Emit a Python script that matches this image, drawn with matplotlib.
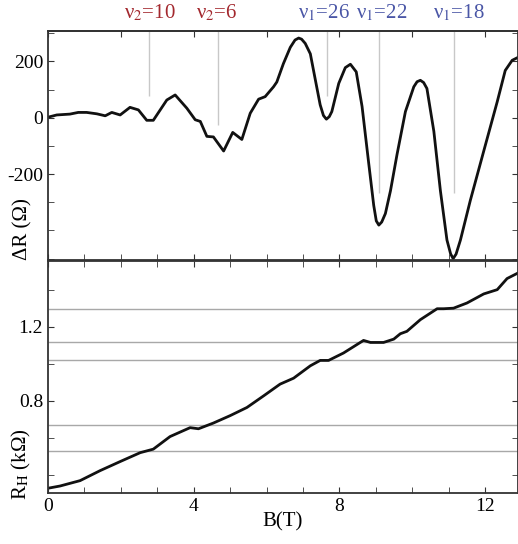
import numpy as np
import matplotlib
matplotlib.use('Agg')
import matplotlib.pyplot as plt
from matplotlib.ticker import MultipleLocator, FixedLocator
import matplotlib.transforms as mtransforms

plt.rcParams['font.family'] = ['Liberation Serif', 'DejaVu Serif']
plt.rcParams['mathtext.fontset'] = 'stix'
plt.rcParams['axes.unicode_minus'] = False

# top panel: Delta R (Ohm) vs B (T)
b_top = [0.0, 0.24, 0.6, 0.83, 1.06, 1.34, 1.57, 1.75, 1.98, 2.25, 2.48, 2.71, 2.89,
         3.08, 3.26, 3.49, 3.81, 4.04, 4.18, 4.36, 4.54, 4.82, 5.07, 5.32, 5.55,
         5.78, 5.96, 6.19, 6.28, 6.46, 6.65, 6.78, 6.88, 6.96, 7.06, 7.20, 7.34,
         7.47, 7.56, 7.64, 7.72, 7.79, 7.98, 8.16, 8.30, 8.46, 8.62, 8.80, 8.94,
         9.01, 9.08, 9.16, 9.26, 9.40, 9.58, 9.81, 10.04, 10.13, 10.22, 10.31, 10.40,
         10.59, 10.77, 10.95, 11.05, 11.12, 11.20, 11.32, 11.59, 11.96, 12.33,
         12.55, 12.74, 12.91]
dr_top = [2, 10, 13, 19, 19, 14, 7, 19, 10, 37, 28, -9, -9,
          28, 63, 81, 34, -7, -13, -66, -68, -118, -52, -77, 16,
          66, 75, 110, 127, 192, 250, 276, 283, 279, 264, 227, 133,
          46, 8, -5, 4, 22, 122, 178, 190, 163, 40, -159, -311,
          -366, -381, -370, -340, -259, -130, 22, 110, 128, 133, 125, 104,
          -48, -259, -434, -483, -500, -484, -434, -294, -118, 57,
          168, 204, 215]

# bottom panel: Hall resistance (kOhm) vs B (T)
b_bot = [0.0, 0.33, 0.88, 1.43, 1.98, 2.53, 2.89, 3.35, 3.9, 4.13, 4.54, 5.0, 5.46,
         5.92, 6.37, 6.74, 7.2, 7.47, 7.7, 8.11, 8.66, 8.85, 9.21, 9.49, 9.67, 9.85,
         10.22, 10.68, 10.86, 11.13, 11.5, 11.96, 12.33, 12.6, 12.9]
rh_bot = [0.328, 0.34, 0.369, 0.423, 0.472, 0.52, 0.539, 0.607, 0.655, 0.649, 0.68,
          0.72, 0.764, 0.827, 0.89, 0.922, 0.989, 1.018, 1.018, 1.058, 1.126, 1.115,
          1.115, 1.133, 1.162, 1.175, 1.238, 1.297, 1.297, 1.30, 1.328, 1.377, 1.40,
          1.46, 1.49]

# filling factor markers
nu_b = [2.77, 4.67, 7.66, 9.08, 11.14]
nu_end = [77, -26, 78, -268, -268]
nu_text_b = [2.80, 4.64, 7.58, 9.15, 11.29]
nu_labels = [r'ν$_2$=10', r'ν$_2$=6', r'ν$_1$=26', r'ν$_1$=22', r'ν$_1$=18']
nu_colors = ['#a3282e', '#a3282e', '#4a56a6', '#4a56a6', '#4a56a6']

# plateau reference lines
plateaus = [1.297, 1.115, 1.022, 0.670, 0.530]

fig = plt.figure(figsize=(5.18, 5.44), dpi=100)
ax1 = fig.add_axes([0.0927, 0.522, 0.9073, 0.421])
ax2 = fig.add_axes([0.0927, 0.094, 0.9073, 0.427], sharex=ax1)

spine_col = '#333333'
for ax in (ax1, ax2):
    for s in ax.spines.values():
        s.set_color(spine_col)
        s.set_linewidth(1.3)
    ax.tick_params(which='both', direction='in', top=True, right=True,
                   colors=spine_col, labelcolor='black', labelsize=14)
    ax.tick_params(which='major', length=4)
    ax.tick_params(which='minor', length=4)

# top panel
ax1.plot(b_top, dr_top, color='#111111', lw=2.0, solid_joinstyle='round')
ax1.vlines(nu_b, nu_end, 320, color='#c8c8c8', lw=1.0, zorder=0)
trans = mtransforms.blended_transform_factory(ax1.transData, ax1.transAxes)
for xb, lab, c in zip(nu_text_b, nu_labels, nu_colors):
    ax1.text(xb, 1.079, lab, transform=trans, ha='center', va='center',
             color=c, fontsize=15)
ax1.set_ylim(-505, 308)
ax1.yaxis.set_major_locator(FixedLocator([-200, 0, 200]))
ax1.yaxis.set_minor_locator(MultipleLocator(100))
ax1.tick_params(axis='x', labelbottom=False, top=False, which='both')
top_ax = ax1.secondary_xaxis('top')
top_ax.set_xticks(np.arange(0, 13, 2))
top_ax.tick_params(direction='in', length=4, colors=spine_col, labeltop=False)
top_ax.spines['top'].set_color(spine_col)
top_ax.spines['top'].set_linewidth(1.3)
ax1.set_ylabel(r'ΔR (Ω)', fontsize=15, loc='bottom')
ax1.yaxis.set_label_coords(-0.032, 0.0)

# bottom panel
ax2.hlines(plateaus, 0, 13, color='#a8a8a8', lw=1.0, zorder=0)
ax2.plot(b_bot, rh_bot, color='#111111', lw=2.0, solid_joinstyle='round')
ax2.set_ylim(0.303, 1.557)
ax2.yaxis.set_major_locator(FixedLocator([0.8, 1.2]))
ax2.yaxis.set_minor_locator(MultipleLocator(0.2))
ax2.yaxis.set_major_formatter(plt.FuncFormatter(lambda v, p: '%.1f' % v))
ax2.set_xlim(0, 12.9)
ax2.xaxis.set_major_locator(MultipleLocator(4))
ax2.xaxis.set_minor_locator(MultipleLocator(1))
ax2.set_xlabel('B(T)', fontsize=15, labelpad=-2)
ax2.set_ylabel(r'R$_\mathrm{H}$ (kΩ)', fontsize=15, loc='bottom')
ax2.yaxis.set_label_coords(-0.032, -0.03)

fig.savefig('out.png', dpi=100)
